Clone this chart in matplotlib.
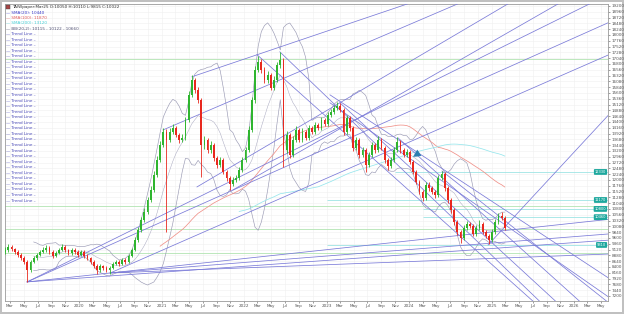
import numpy as np
import pandas as pd
import matplotlib

matplotlib.use('Agg')
import matplotlib.pyplot as plt
import matplotlib.dates as mdates
from matplotlib.ticker import FuncFormatter, MultipleLocator
from matplotlib.transforms import blended_transform_factory

# bi-weekly candles
start = '2019-02-08'
first_open = 9000
closes = [9100, 9230, 9150, 9020, 8900, 8770, 8610, 8280, 8610, 8770,
          8900, 9020, 9100, 9190, 9020, 8860, 8980, 9100, 9230, 9100,
          8980, 9100, 9020, 8900, 9020, 8860, 8770, 8610, 8440, 8280,
          8440, 8360, 8280, 8360, 8520, 8610, 8520, 8690, 8610, 8860,
          9100, 9520, 9930, 10350, 10680, 11170, 11590, 12210, 12830, 13450,
          13990, 13660, 13990, 14150, 13870, 13660, 13740, 14490, 15520, 16140,
          15730, 15310, 13450, 13660, 13240, 13450, 12910, 12620, 12830, 12330,
          12080, 11840, 12000, 12080, 12420, 12830, 13240, 14070, 15310, 16560,
          16890, 16560, 16140, 16350, 15810, 16140, 16760, 16970, 13240, 13870,
          13040, 13660, 14070, 13660, 13990, 13740, 14150, 13990, 14280, 14150,
          14490, 14320, 14690, 14820, 14980, 15070, 14900, 13990, 14570, 14150,
          13330, 13660, 13040, 13240, 12620, 13040, 13450, 13240, 13660, 13330,
          12830, 12580, 12830, 13240, 13580, 13240, 13040, 13160, 12750, 12330,
          11920, 11510, 11260, 11800, 11670, 11510, 11380, 12080, 12250, 11670,
          11170, 10760, 10260, 9850, 9600, 10010, 10180, 10100, 9770, 10010,
          10180, 9850, 9680, 9520, 9850, 10260, 10510, 10430, 10010]
highs = [9230, 9350, 9310, 9200, 9080, 8960, 8840, 8680, 8690, 8850,
         8990, 9120, 9220, 9290, 9250, 9080, 9060, 9180, 9330, 9290,
         9160, 9190, 9170, 9090, 9110, 9080, 8920, 8830, 8680, 8510,
         8520, 8500, 8420, 8440, 8600, 8700, 8680, 8770, 8750, 8950,
         9200, 9640, 10060, 10480, 10820, 11310, 11750, 12380, 13000, 13620,
         14150, 14100, 14150, 14320, 14230, 13950, 13880, 14620, 15680, 16350,
         16230, 15830, 15400, 13830, 13750, 13600, 13530, 13000, 12950, 12900,
         12420, 12150, 12120, 12200, 12550, 12960, 13380, 14230, 15450, 16720,
         17140, 16990, 16660, 16500, 16430, 16280, 16900, 17300, 17060, 14010,
         13950, 13800, 14220, 14150, 14130, 14080, 14280, 14240, 14400, 14360,
         14610, 14580, 14810, 14930, 15100, 15230, 15170, 14980, 14700, 14650,
         14230, 13780, 13740, 13370, 13320, 13160, 13570, 13530, 13820, 13740,
         13410, 12900, 12950, 13360, 13780, 13660, 13320, 13280, 13230, 12820,
         12410, 12000, 11600, 11930, 11900, 11750, 11600, 12200, 12370, 12320,
         11750, 11250, 10840, 10340, 9930, 10130, 10300, 10260, 10170, 10130,
         10330, 10250, 9920, 9760, 9960, 10380, 10640, 10680, 10510]
lows = [8920, 9030, 9060, 8940, 8800, 8700, 8530, 7780, 8200, 8550,
        8700, 8840, 8960, 9030, 8950, 8780, 8800, 8920, 9040, 9030,
        8900, 8910, 8950, 8830, 8840, 8790, 8690, 8540, 8360, 8110,
        8200, 8290, 8190, 8110, 8300, 8460, 8450, 8460, 8540, 8560,
        8800, 9040, 9450, 9860, 10260, 10600, 11080, 11500, 12120, 12740,
        13380, 9850, 13560, 13900, 13760, 13540, 13550, 13660, 14400, 15450,
        15600, 15180, 12130, 13300, 13100, 13120, 12800, 12500, 12530, 12230,
        11960, 11590, 11740, 11900, 11980, 12330, 12740, 13150, 13980, 15200,
        16450, 16420, 16000, 16020, 15730, 15720, 16060, 16650, 12540, 13130,
        12900, 12960, 13570, 13560, 13570, 13650, 13660, 13900, 13920, 14060,
        14070, 14230, 14250, 14610, 14740, 14900, 14800, 13860, 13900, 14030,
        13200, 13230, 12910, 12940, 12330, 12530, 12960, 13130, 13150, 13230,
        12700, 12420, 12490, 12740, 13150, 13130, 12940, 12950, 12640, 12230,
        11820, 11400, 11130, 11180, 11560, 11400, 11270, 11300, 12000, 11560,
        11050, 10650, 10150, 9720, 9390, 9520, 9930, 10010, 9680, 9700,
        9940, 9760, 9600, 9350, 9450, 9780, 10180, 10340, 9930]

# trend lines: anchor 1 -> anchor 2, drawn on to the right edge
trend_d1 = ['2019-05-16', '2020-05-18', '2021-06-06', '2021-11-13', '2021-01-07',
            '2021-05-15', '2019-05-16', '2020-05-18', '2020-05-18', '2019-05-16',
            '2024-12-16', '2022-02-27', '2022-06-08', '2023-03-01', '2023-11-13',
            '2024-05-26', '2023-01-16', '2023-01-16', '2019-05-16']
trend_p1 = [7780, 8150, 11710, 11590, 14070,
            16270, 7780, 8150, 8150, 7780,
            9310, 17180, 17300, 15190, 13740,
            12370, 15520, 15190, 7780]
trend_d2 = ['2023-01-16', '2023-01-16', '2023-04-15', '2023-04-15', '2023-04-15',
            '2022-02-27', '2022-12-02', '2022-05-26', '2022-12-02', '2020-05-18',
            '2025-12-12', '2025-07-02', '2025-07-31', '2025-10-10', '2026-01-24',
            '2026-05-01', '2025-12-12', '2025-12-12', '2026-03-20']
trend_p2 = [13370, 12130, 15440, 14360, 17380,
            17180, 8650, 8690, 8480, 8150,
            12950, 6990, 6990, 6990, 6990,
            7160, 9000, 8280, 19330]

# horizontal levels
green_levels = [17000, 10930, 9980, 8980]
teal_levels = [12330, 11170, 10800, 10460, 9310]
teal_from = ['2023-11-01', '2023-01-01', '2024-03-01', '2024-03-01', '2023-01-01']

legend_rows = [('SMA(20): 10440', '#3a3ac8'),
               ('SMA(100): 11870', '#e05a5a'),
               ('SMA(200): 13120', '#45cfd6'),
               ('BB(20,2): 10115 - 10122 - 10660', '#555577')]
n_trend_rows = 31

dates = pd.date_range(start, periods=len(closes), freq='14D')
opens = [first_open] + closes[:-1]
s = pd.Series(closes, index=dates)
sma20 = s.rolling(10).mean()
sma100 = s.rolling(50).mean()
sma200 = s.rolling(100, min_periods=75).mean()
bb_std = s.rolling(10).std()
bb_up = sma20 + 2 * bb_std
bb_lo = sma20 - 2 * bb_std

fig = plt.figure(figsize=(6.24, 3.14), dpi=100)
fig.patch.set_facecolor('white')
fig.patch.set_edgecolor('#c0c0c0')
fig.patch.set_linewidth(1.5)
ax = fig.add_axes([5 / 624, 13 / 314, 603 / 624, 297 / 314])

x0 = mdates.date2num(pd.Timestamp('2019-02-07'))
x1 = mdates.date2num(pd.Timestamp('2026-05-31'))
ax.set_xlim(x0, x1)
ax.set_ylim(6990, 19280)

ax.grid(True, color='#efefef', lw=0.4)
ax.set_axisbelow(True)

# horizontal levels
for lv in green_levels:
    ax.axhline(lv, color='#b2e4b2', lw=0.6, zorder=1)
tr = blended_transform_factory(ax.transAxes, ax.transData)
for lv, d in zip(teal_levels, teal_from):
    ax.hlines(lv, mdates.date2num(pd.Timestamp(d)), x1, color='#9ee4e4', lw=0.6, zorder=1)
    ax.text(0.997, lv, '%d' % lv, transform=tr, ha='right', va='center', fontsize=2.6,
            color='white', zorder=6,
            bbox=dict(boxstyle='round,pad=0.25', fc='#1ea89e', ec='none'))

# trend lines
for a, pa, b, pb in zip(trend_d1, trend_p1, trend_d2, trend_p2):
    xa = mdates.date2num(pd.Timestamp(a))
    xb = mdates.date2num(pd.Timestamp(b))
    k = (pb - pa) / (xb - xa)
    ye = pa + k * (x1 - xa)
    ax.plot([xa, x1], [pa, ye], color='#7a7ad8', lw=0.55, zorder=3)

# indicators
ax.plot(dates, bb_up, color='#9a9ab4', lw=0.45, zorder=2)
ax.plot(dates, bb_lo, color='#9a9ab4', lw=0.45, zorder=2)
ax.plot(dates, sma20, color='#a8a8c0', lw=0.35, zorder=2)
ax.plot(dates, sma100, color='#f09088', lw=0.55, zorder=2)
ax.plot(dates, sma200, color='#96e6ec', lw=0.55, zorder=2)

# candles
xs = mdates.date2num(dates)
cols = ['#2fb52f' if c >= o else '#e8281e' for o, c in zip(opens, closes)]
ax.vlines(xs, lows, highs, colors=cols, lw=0.6, zorder=4)
body_lo = np.minimum(opens, closes)
body_h = np.maximum(np.abs(np.array(closes) - np.array(opens)), 20)
ax.bar(xs, body_h, bottom=body_lo, width=8, color=cols, lw=0, zorder=5)

# small arrow marker
ax.annotate('', xy=(mdates.date2num(pd.Timestamp('2024-01-10')), 12900),
            xytext=(mdates.date2num(pd.Timestamp('2024-02-20')), 13150),
            arrowprops=dict(arrowstyle='simple', color='#2a7fb0', lw=0.3), zorder=6)

# axes
ax.yaxis.tick_right()
ax.yaxis.set_major_locator(MultipleLocator(240))
ax.yaxis.set_major_formatter(FuncFormatter(lambda v, p: '%d' % v if v >= 7200 else ''))
ax.xaxis.set_major_locator(mdates.MonthLocator(bymonth=[1, 3, 5, 7, 9, 11]))
ax.xaxis.set_major_formatter(FuncFormatter(
    lambda v, p: mdates.num2date(v).strftime('%Y' if mdates.num2date(v).month == 1 else '%b')))
ax.tick_params(axis='both', labelsize=3.0, colors='#555555', length=1.5, width=0.4, pad=1)
for sp in ax.spines.values():
    sp.set_color('#9a9a9a')
    sp.set_linewidth(0.6)

# legend block
def ftxt(x, y, txt, col, **kw):
    fig.text(x / 624, 1 - y / 314, txt, color=col, fontsize=3.0, va='center', ha='left', **kw)

fig.patches.append(plt.Rectangle((6 / 624, 1 - 9 / 314), 4 / 624, 4 / 314,
                                 transform=fig.transFigure, fc='#aa4444', ec='#444444', lw=0.3))
ftxt(12, 7, 'TAIWpaper:Mar25 O:10050 H:10110 L:9815 C:10022', '#333333')
for i, (lab, col) in enumerate(legend_rows):
    ftxt(6, 12.5 + i * 5.5, '\u2014 ' + lab, col)
for i in range(n_trend_rows):
    ftxt(6, 34 + i * 5.55, '\u2014 Trend Line \u2013', '#4848b8')

fig.savefig('out.png', dpi=100)
